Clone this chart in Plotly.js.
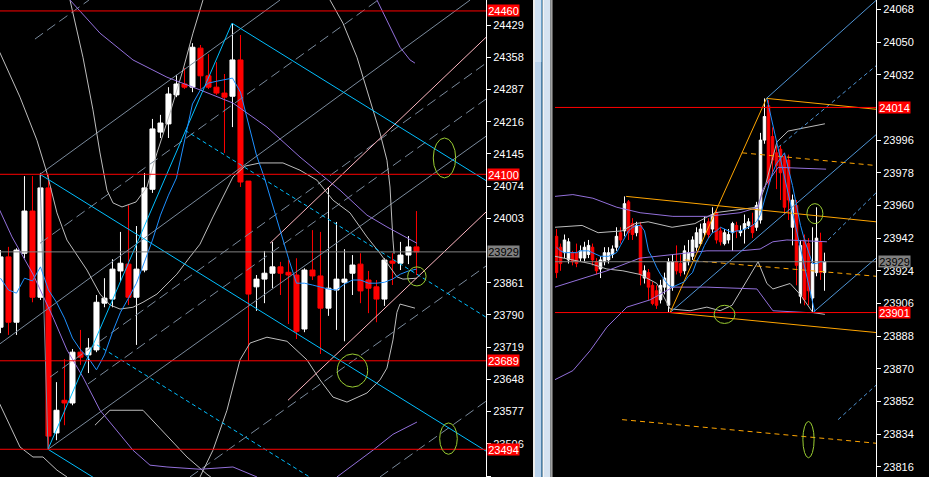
<!DOCTYPE html>
<html>
<head>
<meta charset="utf-8">
<script src="https://cdn.plot.ly/plotly-3.0.1.min.js"></script>
<style>
  html, body { margin: 0; padding: 0; background: #000; }
  #chart { width: 929px; height: 477px; }
</style>
</head>
<body>
<div id="chart"></div>
<script>
// ---- left window (larger timeframe) ----
const leftOpen = [23763,23918,23774,23926,24019,23829,24070,23530,23602,23596,23708,23702,23713,23816,23825,23887,23902,23829,23889,24067,24193,24211,24275,24299,24292,24378,24317,24292,24279,24272,24352,24085,23852,23869,23882,23896,23884,23878,23759,23889,23876,23805,23845,23862,23882,23902,23867,23852,23825,23909,23904,23922,23940];
const leftHigh = [23933,23940,23937,24096,24096,24103,24100,23642,23693,23715,23757,23739,23834,23871,23913,23973,24032,23986,24103,24222,24231,24292,24319,24334,24389,24385,24365,24347,24321,24433,24407,24085,23878,23931,23951,23907,23911,23915,23893,23977,23973,24072,23995,23935,23922,23926,23887,23867,23915,23926,23951,23964,24019];
const leftLow = [23750,23746,23746,23915,23818,23823,23494,23514,23547,23591,23680,23662,23708,23807,23807,23865,23812,23724,23884,24059,24180,24180,24270,24288,24281,24288,24288,24275,24147,24204,24072,23689,23799,23816,23849,23834,23770,23737,23752,23867,23704,23788,23757,23732,23834,23816,23794,23774,23810,23856,23889,23902,23878];
const leftClose = [23918,23774,23933,24019,23829,24070,23523,23580,23596,23708,23697,23717,23818,23827,23891,23904,23829,23891,24070,24200,24213,24277,24299,24292,24380,24317,24292,24279,24270,24352,24083,23836,23869,23882,23896,23882,23878,23754,23889,23876,23805,23849,23869,23869,23900,23843,23849,23825,23911,23904,23922,23940,23929];
const leftMa = [23871,23845,23838,23871,23865,23896,23845,23818,23783,23739,23713,23695,23669,23702,23752,23796,23827,23860,23907,23955,24010,24054,24092,24175,24255,24286,24301,24305,24308,24312,24281,24213,24142,24092,24032,23973,23915,23860,23860,23856,23851,23847,23845,23858,23867,23867,23860,23860,23862,23869,23880,23887,23891];

const leftTicks = [24429,24358,24287,24216,24145,24074,24003,23861,23790,23719,23648,23577,23506,23435];
const leftLevels = [24460, 24100, 23689, 23494];
const leftLast = 23929;

const leftSwingDrop = [[4.94,24100],[5.94,23494]];
const leftSwingRise = [[5.94,23494],[28.94,24433]];
const chanTop = [[28.94,24433],[60.7,24086]];
const chanMid = [[4.94,24100],[60.7,23490]];
const chanLow = [[5.94,23494],[20,23340]];
const chanDashA = [[23.06,24197],[60.7,23785]];
const chanDashB = [[12.06,23724],[40,23418]];

const fanSolid = [
  [[4.94,24100],[34.94,24484]],
  [[-0.1,23726],[58.7,24484]],
  [[5.94,23494],[60.7,24184]]
];
const fanDashed = [
  [[4.31,24398],[11.06,24484]],
  [[4.94,23948],[47.2,24484]],
  [[6.19,23653],[60.7,24345]],
  [[10.94,23638],[60.7,24266]],
  [[23.69,23433],[60.7,23898]],
  [[47.44,23433],[60.7,23600]]
];
const pinkLines = [
  [[33.69,23948],[60.7,24402]],
  [[35.94,23602],[60.7,24017]]
];

const leftSilverMid = [[-0.1,24369],[2.44,24270],[4.56,24175],[5.81,24103],[7.06,24015],[8.31,23955],[10.81,23889],[12.44,23836],[13.69,23812],[14.94,23803],[16.56,23807],[17.81,23818],[19.56,23836],[22.06,23880],[23.69,23918],[24.94,23946],[26.56,24006],[29.06,24094],[30.56,24118],[32.44,24125],[35.31,24125],[37.44,24109],[39.56,24087],[41.56,24043],[43.69,24015],[45.81,23962],[47.44,23926],[48.69,23896],[49.56,23874],[50.31,23869],[52.06,23871]];
const leftSilverArc = [[8.69,24484],[10.31,24358],[11.56,24242],[12.44,24147],[13.31,24065],[14.06,24037],[15.19,24028],[16.94,24039],[18.31,24072],[19.56,24147],[21.19,24235],[22.81,24330],[24.06,24411],[25.31,24484]];
const leftSilverTop = [[41.19,24484],[42.81,24433],[44.56,24358],[46.19,24264],[47.44,24191],[48.31,24131],[48.69,24072],[49.06,23955],[49.2,23925]];
const leftSilverLow = [[24.94,23433],[26.56,23492],[28.31,23580],[29.94,23691],[31.19,23728],[33.31,23741],[35.81,23732],[38.31,23691],[39.94,23647],[41.56,23609],[43.31,23598],[45.81,23618],[47.44,23647],[48.31,23673],[49.06,23735],[49.56,23796],[49.94,23814],[51.81,23805]];
const leftSilverFloor = [[-0.1,23594],[2.44,23499],[4.06,23477],[5.31,23477],[7.06,23448],[8.31,23433]];
const leftSilverBump = [[11.81,23547],[13.69,23580],[17.81,23580],[19.94,23541],[23.31,23477],[25.81,23439],[26.8,23426]];

const leftPurpleUpper = [[8.69,24484],[12.44,24411],[16.56,24352],[20.81,24314],[24.94,24286],[29.06,24257],[33.31,24204],[37.44,24138],[42.44,24065],[45.81,24010],[48.31,23984],[51.19,23955],[52.06,23948]];
const leftPurpleTop = [[47.06,24484],[48.31,24440],[49.94,24380],[51.19,24352],[51.81,24345]];
const leftPurpleLower = [[-0.1,24021],[1.44,23962],[4.06,23880],[6.56,23785],[8.31,23713],[10.31,23653],[12.44,23580],[14.56,23536],[16.56,23492],[18.69,23459],[20.81,23455],[24.94,23450],[29.06,23455],[32.06,23433]];
const leftPurpleRise = [[42.06,23433],[46.56,23492],[49.06,23527],[52.06,23554]];

const leftRings = [[54.1,56.9,24092,24180],[50.9,53.2,23854,23896],[42.1,45.9,23631,23704],[54.9,57.1,23483,23552]];

// ---- right window (smaller timeframe) ----
const rightOpen = [23943,23937,23934,23930,23934,23934,23931,23931,23933,23937,23929,23925,23929,23930,23933,23937,23945,23946,23962,23950,23945,23949,23920,23923,23916,23913,23908,23915,23905,23915,23929,23928,23924,23929,23932,23937,23939,23945,23951,23947,23956,23946,23939,23941,23945,23949,23945,23947,23949,23949,23948,23952,23996,24015,23998,23989,23991,23987,23985,23948,23960,23910,23941,23939,23909,23923,23940,23923];
const rightHigh = [23947,23939,23944,23942,23935,23939,23938,23940,23941,23939,23931,23932,23937,23937,23938,23948,23948,23965,23963,23953,23951,23951,23927,23925,23918,23916,23919,23923,23931,23933,23938,23933,23938,23941,23943,23948,23950,23954,23953,23959,23958,23948,23947,23947,23951,23951,23949,23955,23953,23956,23962,24000,24019,24018,24003,23993,23993,23989,23988,23966,23963,23941,23944,23942,23948,23959,23945,23934];
const rightLow = [23920,23924,23931,23928,23927,23926,23929,23929,23931,23927,23922,23920,23927,23928,23931,23935,23939,23943,23941,23941,23943,23916,23917,23908,23905,23903,23906,23911,23901,23913,23922,23921,23922,23927,23930,23935,23938,23943,23942,23945,23939,23938,23938,23939,23935,23942,23943,23939,23947,23942,23946,23950,23994,23970,23977,23969,23963,23955,23952,23938,23916,23906,23905,23905,23901,23921,23919,23913];
const rightClose = [23923,23928,23941,23940,23929,23928,23935,23937,23938,23930,23924,23930,23934,23934,23936,23943,23941,23961,23945,23944,23949,23922,23924,23915,23906,23905,23916,23920,23929,23929,23924,23923,23935,23934,23941,23945,23947,23950,23944,23955,23941,23940,23945,23944,23950,23946,23946,23950,23951,23945,23960,23996,24009,23973,23985,23982,23978,23959,23963,23963,23927,23938,23908,23913,23928,23942,23923,23929];
const rightMa = [23937,23935,23934,23934,23934,23934,23935,23935,23935,23934,23933,23932,23932,23932,23933,23934,23938,23942,23946,23948,23949,23949,23946,23935,23931,23926,23922,23919,23916,23915,23916,23917,23918,23921,23923,23929,23933,23938,23942,23945,23946,23948,23947,23946,23945,23946,23946,23947,23948,23949,23951,23955,23963,23971,23978,23983,23986,23989,23980,23971,23960,23949,23941,23934,23928,23928,23929,23929];

const rightTicks = [24068,24050,24032,23996,23978,23960,23942,23924,23906,23888,23870,23852,23834,23816];
const rightLevels = [24014, 23901];
const rightLast = 23929;

const orangeSolid = [
  [[28.4,23901],[52.5,24019]],
  [[52.5,24019],[79.9,24013]],
  [[17.4,23965],[79.9,23951]],
  [[28.4,23901],[79.9,23890]]
];
const orangeDashed = [
  [[46.4,23989],[79.9,23982]],
  [[32.1,23930],[79.9,23921]],
  [[16.4,23842],[79.9,23829]]
];
const blueSolid = [
  [[52.5,24019],[79.9,24073]],
  [[28.4,23901],[79.9,23999]],
  [[64.1,23901],[79.9,23931]]
];
const blueDashed = [
  [[55.4,23992],[79.9,24037]],
  [[67.9,23941],[79.9,23967]],
  [[70.4,23842],[79.9,23861]]
];
const rightSwing = [[52.6,24019],[64.6,23901]];

const rightPurpleUpper = [[-0.4,23965],[4.1,23966],[9.1,23964],[15.1,23959],[20.9,23956],[29.1,23954],[37.6,23954],[45.9,23956],[50.4,23959],[51.6,23969],[55.4,23981],[67.4,23980]];
const rightPurpleMid = [[-0.4,23915],[4.1,23918],[12.6,23924],[20.9,23931],[29.1,23933],[37.6,23935],[45.9,23935],[50.9,23936],[54.1,23940],[57.6,23941],[67.6,23940]];
const rightPurpleLow = [[-0.4,23864],[4.1,23869],[8.4,23880],[12.6,23893],[17.6,23904],[23.4,23908],[29.1,23915],[37.6,23915],[50.1,23914],[54.1,23902],[62.6,23901],[66.6,23901]];
const rightSilverUpper = [[-0.4,23948],[6.4,23949],[10.4,23945],[16.4,23946],[19.6,23950],[22.9,23951],[28.9,23948],[34.6,23950],[39.6,23956],[45.9,23958],[50.1,23959],[52.1,23970],[55.1,23995],[57.9,24001],[64.6,24004],[67.1,24005]];
const rightSilverLower = [[-0.4,23932],[4.1,23930],[8.4,23928],[12.6,23925],[16.6,23924],[20.9,23922],[25.1,23917],[28.4,23903],[33.4,23902],[37.6,23904],[40.9,23902],[43.9,23905],[47.6,23919],[50.4,23929],[52.6,23917],[54.1,23914],[58.4,23917],[60.9,23911],[64.1,23901],[67.1,23900]];

const rightRings = [[39.4,44.6,23895,23905],[62.6,66.6,23950,23961],[61.6,64.4,23821,23841]];

// ---- drawing ----
const W = 929;
const COL = {
  cyan: "#00bfff", ma: "#1e90ff", silver: "#bdbdbd", slate: "#7a8a9c",
  purple: "#9370db", pink: "#ffb6c1", ring: "#9acd32", orange: "#ffa500",
  steel: "#4f94d4", red: "#ff0000", last: "#808080",
};
const DASH_LONG = "10px,5px";
const DASH_SHORT = "4px,3px";

function path(points, color, right, dash) {
  return {
    type: "scatter",
    mode: "lines",
    x: points.map(p => p[0]),
    y: points.map(p => p[1]),
    xaxis: right ? "x2" : "x",
    yaxis: right ? "y2" : "y",
    line: { color, width: 1, dash: dash || "solid" },
    hoverinfo: "skip",
    showlegend: false,
  };
}

function candles(open, high, low, close, right) {
  return {
    type: "candlestick",
    x: open.map((_, i) => i),
    open, high, low, close,
    xaxis: right ? "x2" : "x",
    yaxis: right ? "y2" : "y",
    increasing: { line: { color: "#ffffff", width: 1 }, fillcolor: "#ffffff" },
    decreasing: { line: { color: COL.red, width: 1 }, fillcolor: COL.red },
    hoverinfo: "skip",
    showlegend: false,
  };
}

function maLine(values, right) {
  return path(values.map((v, i) => [i, v]), COL.ma, right);
}

const traces = [
  candles(leftOpen, leftHigh, leftLow, leftClose, false),
  candles(rightOpen, rightHigh, rightLow, rightClose, true),
];

// left overlays
fanSolid.forEach(l => traces.push(path(l, COL.slate, false)));
fanDashed.forEach(l => traces.push(path(l, COL.slate, false, DASH_LONG)));
[leftSilverMid, leftSilverArc, leftSilverTop, leftSilverLow, leftSilverFloor, leftSilverBump]
  .forEach(l => traces.push(path(l, COL.silver, false)));
[leftPurpleUpper, leftPurpleTop, leftPurpleLower, leftPurpleRise]
  .forEach(l => traces.push(path(l, COL.purple, false)));
pinkLines.forEach(l => traces.push(path(l, COL.pink, false)));
traces.push(path(leftSwingDrop, COL.slate, false));
[leftSwingRise, chanTop, chanMid, chanLow].forEach(l => traces.push(path(l, COL.cyan, false)));
[chanDashA, chanDashB].forEach(l => traces.push(path(l, COL.cyan, false, DASH_SHORT)));
traces.push(maLine(leftMa, false));

// right overlays
[rightSilverUpper, rightSilverLower].forEach(l => traces.push(path(l, COL.silver, true)));
[rightPurpleUpper, rightPurpleMid, rightPurpleLow].forEach(l => traces.push(path(l, COL.purple, true)));
blueSolid.forEach(l => traces.push(path(l, COL.steel, true)));
blueDashed.forEach(l => traces.push(path(l, COL.steel, true, DASH_SHORT)));
orangeSolid.forEach(l => traces.push(path(l, COL.orange, true)));
orangeDashed.forEach(l => traces.push(path(l, COL.orange, true, "5px,4px")));
traces.push(maLine(rightMa, true));
traces.push(path(rightSwing, COL.ma, true));

const shapes = [];
function level(y, color, axis) {
  shapes.push({
    type: "line", xref: axis.x + " domain", x0: 0, x1: 1,
    yref: axis.y, y0: y, y1: y,
    line: { color, width: 1 },
  });
}
const LA = { x: "x", y: "y" };
const RA = { x: "x2", y: "y2" };
leftLevels.forEach(v => level(v, COL.red, LA));
level(leftLast, COL.last, LA);
rightLevels.forEach(v => level(v, COL.red, RA));
level(rightLast, COL.last, RA);

function ring(r, axis) {
  shapes.push({
    type: "circle", xref: axis.x, yref: axis.y,
    x0: r[0], x1: r[1], y0: r[2], y1: r[3],
    line: { color: COL.ring, width: 1 },
  });
}
leftRings.forEach(r => ring(r, LA));
rightRings.forEach(r => ring(r, RA));

// window splitter between the two charts
[
  [533, 535, "#ececec", 0, 1],
  [535, 541.5, "#b9d1ea", 0, 1],
  [535, 541.5, "#cfe0f2", 0.87, 1],
  [541.5, 542.5, "#3c9be0", 0, 1],
  [542.5, 544, "#f4f4f4", 0, 1],
  [544, 550.5, "#d6e3f1", 0, 1],
  [550.5, 552, "#a0a0a0", 0, 1],
  [552, 553, "#5a5a5a", 0, 1],
].forEach(([a, b, c, y0, y1]) => shapes.push({
  type: "rect", xref: "paper", yref: "paper",
  x0: a / W, x1: b / W, y0, y1,
  line: { width: 0 }, fillcolor: c,
}));

const annotations = [];
function tag(y, bg, fg, px, yref) {
  annotations.push({
    xref: "paper", x: px / W, xanchor: "left",
    yref, y, yanchor: "middle",
    text: String(y), showarrow: false,
    font: { family: "Liberation Sans, Arial, sans-serif", size: 11, color: fg },
    bgcolor: bg, borderpad: 0, width: 31, height: 11, align: "center",
  });
}
leftLevels.forEach(v => tag(v, COL.red, "#ffffff", 487, "y"));
tag(leftLast, COL.last, "#000000", 487, "y");
rightLevels.forEach(v => tag(v, COL.red, "#ffffff", 878, "y2"));
tag(rightLast, COL.last, "#000000", 878, "y2");

const axisFont = { family: "Liberation Sans, Arial, sans-serif", size: 11, color: "#ffffff" };
function priceAxis(range, ticks, anchor) {
  return {
    domain: [0, 1], range, anchor, side: "right",
    showgrid: false, zeroline: false,
    showline: true, linecolor: "#ffffff", linewidth: 1,
    ticks: "outside", ticklen: 4, tickcolor: "#ffffff",
    tickvals: ticks, ticktext: ticks.map(String),
    tickfont: axisFont, fixedrange: true,
  };
}
function timeAxis(domain, range) {
  return {
    domain, range, visible: false, showgrid: false, zeroline: false,
    rangeslider: { visible: false }, fixedrange: true,
  };
}

const layout = {
  width: 929, height: 477,
  margin: { l: 0, r: 0, t: 0, b: 0 },
  paper_bgcolor: "#000000", plot_bgcolor: "#000000",
  showlegend: false,
  boxgap: 0.1, boxgroupgap: 0.3,
  xaxis: timeAxis([0, 486 / W], [-0.06, 60.69]),
  yaxis: priceAxis([23432.9, 24484.1], leftTicks, "x"),
  xaxis2: timeAxis([555 / W, 876 / W], [-0.375, 79.875]),
  yaxis2: priceAxis([23810.4, 24073.2], rightTicks, "x2"),
  shapes, annotations,
};

Plotly.newPlot("chart", traces, layout, { staticPlot: true, displayModeBar: false });
</script>
</body>
</html>
